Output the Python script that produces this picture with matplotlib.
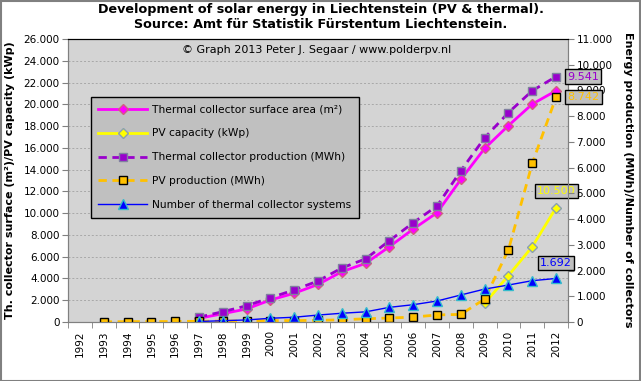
import numpy as np
import matplotlib
matplotlib.use("Agg")
import matplotlib.pyplot as plt
from matplotlib.ticker import FuncFormatter, MultipleLocator
from matplotlib.patches import Rectangle

nan = np.nan
years = list(range(1992, 2013))

# left axis (m2 / kWp)
thermal_area = [nan, nan, nan, nan, nan, 340, 760, 1200, 2020, 2640, 3450, 4620, 5390,
                6920, 8540, 10040, 13100, 15950, 18050, 20020, 21250]
pv_capacity = [nan] * 17 + [1720, 4270, 6920, 10500]

# right axis (MWh / number)
thermal_prod = [nan, nan, nan, nan, nan, 190, 400, 630, 945, 1245, 1595, 2100, 2455,
                3160, 3860, 4510, 5880, 7160, 8140, 8990, 9541]
pv_prod = [nan, 5, 15, 15, 20, 30, 35, 40, 55, 55, 65, 85, 125,
           155, 190, 275, 295, 894, 2810, 6170, 8742]
n_systems = [nan, nan, nan, nan, nan, 20, 50, 80, 145, 185, 270, 340, 395,
             570, 672, 816, 1050, 1280, 1438, 1606, 1692]

labels = ["Thermal collector surface area (m\u00b2)", "PV capacity (kWp)",
          "Thermal collector production (MWh)", "PV production (MWh)",
          "Number of thermal collector systems"]

x = np.arange(len(years))
dots = FuncFormatter(lambda v, p: f"{int(round(v)):,}".replace(",", "."))

fig = plt.figure(figsize=(6.41, 3.81), dpi=100)
ax = fig.add_axes([68 / 641, 1 - 322 / 381, 500 / 641, 283 / 381])
ax.set_facecolor("#d4d4d4")
ax2 = ax.twinx()

l1, = ax.plot(x, thermal_area, color="#ff00ff", lw=2, marker="D", ms=5,
              mfc="#ff00ff", mec="#d06080", label=labels[0])
l2, = ax.plot(x, pv_capacity, color="#ffff00", lw=2, marker="D", ms=5,
              mfc="#ffff00", mec="#8aa0b0", label=labels[1])
l3, = ax2.plot(x, thermal_prod, color="#9900cc", lw=2, ls=(0, (3, 2)), marker="s", ms=6,
               mfc="#9900cc", mec="#8080a0", label=labels[2])
l4, = ax2.plot(x, pv_prod, color="#ffc000", lw=2, ls=(0, (3, 2)), marker="s", ms=6,
               mfc="#ffc000", mec="black", label=labels[3])
l5, = ax2.plot(x, n_systems, color="#0000ff", lw=1, marker="^", ms=7,
               mfc="#0000ff", mec="#33bbcc", label=labels[4])

ax.set_xlim(-0.5, len(years) - 0.5)
ax.set_ylim(0, 26000)
ax2.set_ylim(0, 11000)
ax.yaxis.set_major_locator(MultipleLocator(2000))
ax2.yaxis.set_major_locator(MultipleLocator(1000))
ax.yaxis.set_major_formatter(dots)
ax2.yaxis.set_major_formatter(dots)
ax.grid(axis="y", color="#a8a8a8", ls=(0, (2, 2)), lw=0.7)
ax.set_axisbelow(True)

ax.set_xticks(x)
ax.set_xticklabels([str(y) for y in years], rotation=90, fontsize=7.5)
ax.set_xticks(np.arange(-0.5, len(years), 1), minor=True)
ax.tick_params(axis="x", which="major", length=0, pad=6)
ax.tick_params(axis="x", which="minor", length=4, color="#808080")
ax.tick_params(axis="y", labelsize=7.5, length=4, color="#808080", pad=2)
ax2.tick_params(axis="y", labelsize=7.5, length=4, color="#808080", pad=2)

for a in (ax, ax2):
    for side in ("left", "right", "bottom"):
        a.spines[side].set_color("#808080")
    a.spines["top"].set_color("black")

fig.text(0.5, 1 - 10 / 381, "Development of solar energy in Liechtenstein (PV & thermal).",
         ha="center", va="center", fontsize=9.2, fontweight="bold")
fig.text(0.5, 1 - 25 / 381, "Source: Amt f\u00fcr Statistik F\u00fcrstentum Liechtenstein.",
         ha="center", va="center", fontsize=9.2, fontweight="bold")
ax.text(0.498, 0.961, "\u00a9 Graph 2013 Peter J. Segaar / www.polderpv.nl",
        transform=ax.transAxes, ha="center", va="center", fontsize=8)

fig.text(10 / 641, 1 - 180 / 381, "Th. collector surface (m\u00b2)/PV capacity (kWp)",
         rotation=90, ha="center", va="center", fontsize=8, fontweight="bold")
fig.text(628 / 641, 1 - 180 / 381, "Energy production (MWh)/Number of collectors",
         rotation=-90, ha="center", va="center", fontsize=8, fontweight="bold")

leg = ax2.legend(handles=[l1, l2, l3, l4, l5], loc="upper left",
                 bbox_to_anchor=(23 / 500, 1 - 58 / 283), borderaxespad=0,
                 fontsize=7.7, frameon=True, fancybox=False, facecolor="#c0c0c0",
                 edgecolor="black", framealpha=1, handlelength=4.5,
                 handletextpad=0.5, labelspacing=1.3, borderpad=0.7)
leg.get_frame().set_linewidth(1)

box = dict(boxstyle="square,pad=0.2", fc="#c0c0c0", ec="black", lw=1)
ax2.annotate(f"{thermal_prod[-1]:,}".replace(",", "."), (x[-1], thermal_prod[-1]),
             xytext=(8, 0), textcoords="offset points", ha="left", va="center",
             color="#9900cc", fontsize=8, bbox=box, annotation_clip=False)
ax2.annotate(f"{pv_prod[-1]:,}".replace(",", "."), (x[-1], pv_prod[-1]),
             xytext=(8, 0), textcoords="offset points", ha="left", va="center",
             color="#ffc000", fontsize=8, bbox=box, annotation_clip=False)
ax.annotate(f"{pv_capacity[-1]:,}".replace(",", "."), (x[-1], pv_capacity[-1]),
            xytext=(0, 12), textcoords="offset points", ha="center", va="center",
            color="#ffff00", fontsize=8, bbox=box, annotation_clip=False)
ax2.annotate(f"{n_systems[-1]:,}".replace(",", "."), (x[-1], n_systems[-1]),
             xytext=(0, 11), textcoords="offset points", ha="center", va="center",
             color="#0000ff", fontsize=8, bbox=box, annotation_clip=False)

fig.patches.append(Rectangle((0.001, 0.001), 0.997, 0.996, transform=fig.transFigure,
                             fill=False, ec="#808080", lw=1.5))

fig.savefig("out.png", dpi=100)
